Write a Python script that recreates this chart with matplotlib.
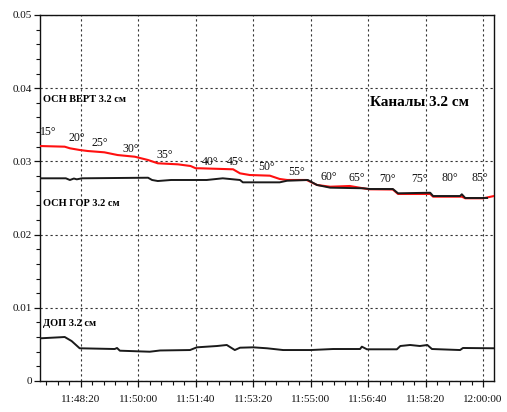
import matplotlib
matplotlib.use("Agg")
import matplotlib.pyplot as plt
from matplotlib.ticker import FixedLocator, MultipleLocator, FuncFormatter

plt.rcParams["font.family"] = ["Liberation Serif", "DejaVu Serif"]


def secs(t):
    h, m, s = (int(v) for v in t.split(":"))
    return h * 3600 + m * 60 + s


# ОСН ВЕРТ 3.2 см (red)
vert_t = ["11:47:09", "11:47:52", "11:48:01", "11:48:18", "11:48:32", "11:49:01",
          "11:49:24", "11:49:54", "11:50:17", "11:50:34", "11:51:09", "11:51:31",
          "11:51:40", "11:51:47", "11:52:45", "11:52:57", "11:53:14", "11:53:49",
          "11:54:06", "11:54:19", "11:54:53", "11:55:11", "11:55:34", "11:56:08",
          "11:56:31", "11:56:43", "11:57:23", "11:57:32", "11:58:28", "11:58:33",
          "11:59:23", "11:59:29", "12:00:00", "12:00:19"]
vert_v = [0.03210, 0.03201, 0.03179, 0.03156, 0.03142, 0.03124,
          0.03087, 0.03064, 0.03019, 0.02974, 0.02960, 0.02937,
          0.02906, 0.02906, 0.02892, 0.02837, 0.02814, 0.02805,
          0.02760, 0.02746, 0.02746, 0.02678, 0.02654, 0.02664,
          0.02633, 0.02619, 0.02616, 0.02555, 0.02555, 0.02518,
          0.02518, 0.02496, 0.02496, 0.02527]

# ОСН ГОР 3.2 см (black)
gor_t = ["11:47:09", "11:47:54", "11:48:01", "11:48:08", "11:48:13", "11:48:22",
         "11:50:17", "11:50:24", "11:50:34", "11:50:57", "11:51:38", "11:51:59",
         "11:52:27", "11:52:57", "11:53:02", "11:54:06", "11:54:19", "11:54:55",
         "11:55:11", "11:55:34", "11:56:31", "11:56:43", "11:57:23", "11:57:32",
         "11:58:28", "11:58:33", "11:59:20", "11:59:23", "11:59:29", "12:00:07"]
gor_v = [0.02769, 0.02769, 0.02746, 0.02766, 0.02755, 0.02769,
         0.02777, 0.02746, 0.02732, 0.02746, 0.02746, 0.02746,
         0.02769, 0.02746, 0.02714, 0.02714, 0.02736, 0.02746,
         0.02678, 0.02641, 0.02633, 0.02623, 0.02623, 0.02564,
         0.02572, 0.02527, 0.02527, 0.02551, 0.02500, 0.02500]

# ДОП 3.2 см (black)
dop_t = ["11:47:09", "11:47:43", "11:47:52", "11:48:04", "11:48:18", "11:49:19",
         "11:49:23", "11:49:28", "11:50:20", "11:50:38", "11:51:30", "11:51:42",
         "11:52:17", "11:52:34", "11:52:48", "11:52:57", "11:53:20", "11:53:44",
         "11:54:12", "11:55:00", "11:55:39", "11:56:26", "11:56:29", "11:56:38",
         "11:57:30", "11:57:36", "11:57:53", "11:58:10", "11:58:23", "11:58:31",
         "11:59:20", "11:59:25", "12:00:19"]
dop_v = [0.00583, 0.00597, 0.00601, 0.00546, 0.00447, 0.00437,
         0.00451, 0.00414, 0.00400, 0.00417, 0.00423, 0.00460,
         0.00478, 0.00492, 0.00423, 0.00455, 0.00460, 0.00447,
         0.00423, 0.00423, 0.00437, 0.00437, 0.00469, 0.00433,
         0.00433, 0.00478, 0.00492, 0.00478, 0.00492, 0.00437,
         0.00423, 0.00451, 0.00447]

angle_labels = ["15°", "20°", "25°", "30°", "35°", "40°", "45°", "50°",
                "55°", "60°", "65°", "70°", "75°", "80°", "85°"]
angle_t = ["11:47:24", "11:48:13", "11:48:53", "11:49:47", "11:50:46", "11:52:05",
           "11:52:48", "11:53:44", "11:54:36", "11:55:32", "11:56:21", "11:57:13",
           "11:58:10", "11:59:02", "11:59:55"]
angle_v = [0.0340, 0.0332, 0.0325, 0.0317, 0.0309, 0.0299, 0.0299, 0.0292,
           0.0286, 0.0279, 0.0277, 0.0276, 0.0276, 0.0277, 0.0277]

x_ticks = ["11:48:20", "11:50:00", "11:51:40", "11:53:20",
           "11:55:00", "11:56:40", "11:58:20", "12:00:00"]
y_ticks = [0, 0.01, 0.02, 0.03, 0.04, 0.05]

fig = plt.figure(figsize=(5.07, 4.12), dpi=100)
ax = fig.add_axes([40 / 507, 1 - 381 / 412, 454 / 507, 366 / 412])

ax.plot([secs(t) for t in vert_t], vert_v, color="#ff1010", lw=1.5, zorder=3)
ax.plot([secs(t) for t in gor_t], gor_v, color="#1a1a1a", lw=1.4, zorder=4)
ax.plot([secs(t) for t in dop_t], dop_v, color="#1a1a1a", lw=1.4, zorder=4)

for lab, t, v in zip(angle_labels, angle_t, angle_v):
    ax.text(secs(t), v, lab, fontsize=8.5, ha="center", va="center", color="#111111")

ax.text(secs("11:47:14"), 0.0385, "ОСН ВЕРТ 3.2 см", fontsize=7.5,
        fontweight="bold", ha="left", va="center")
ax.text(secs("11:47:14"), 0.0243, "ОСН ГОР 3.2 см", fontsize=7.5,
        fontweight="bold", ha="left", va="center")
ax.text(secs("11:47:14"), 0.0078, "ДОП 3.2 см", fontsize=7.5,
        fontweight="bold", ha="left", va="center")
ax.text(secs("11:58:10"), 0.0380, "Каналы 3.2 см", fontsize=11,
        fontweight="bold", ha="center", va="center")

ax.set_xlim(secs("11:47:09"), secs("12:00:19"))
ax.set_ylim(0, 0.05)

ax.xaxis.set_major_locator(FixedLocator([secs(t) for t in x_ticks]))
ax.xaxis.set_major_formatter(FuncFormatter(
    lambda v, p: "%d:%02d:%02d" % (int(v) // 3600, int(v) % 3600 // 60, int(v) % 60)))
ax.xaxis.set_minor_locator(MultipleLocator(20))
ax.yaxis.set_major_locator(FixedLocator(y_ticks))
ax.yaxis.set_major_formatter(FuncFormatter(lambda v, p: "0" if v == 0 else "%.2f" % v))
ax.yaxis.set_minor_locator(MultipleLocator(0.002))

ax.tick_params(which="major", direction="out", length=4, width=0.9,
               labelsize=8, pad=2, colors="#111111")
ax.tick_params(which="minor", direction="out", length=3, width=0.8, colors="#111111")
ax.tick_params(axis="x", pad=6)

ax.grid(True, which="major", color="#333333", linestyle=(0, (2, 2.5)), linewidth=0.8)
for sp in ax.spines.values():
    sp.set_color("#111111")
    sp.set_linewidth(1.0)

fig.savefig("out.png", dpi=100)
